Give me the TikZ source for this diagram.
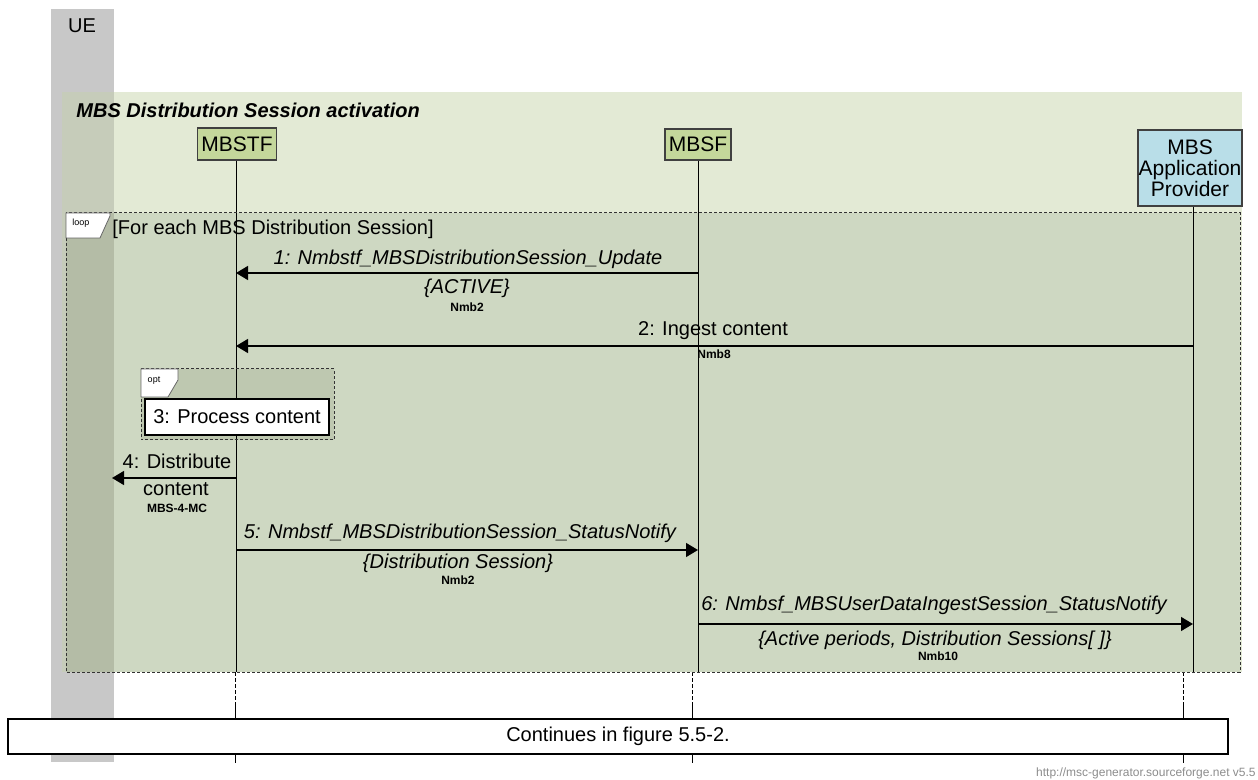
\documentclass[tikz,border=0pt]{standalone}
\usepackage{fontspec}
\setmainfont{Liberation Sans}
\usetikzlibrary{arrows.meta}

\definecolor{uegray}{HTML}{C8C8C8}
\definecolor{bandgreen}{HTML}{E3EAD5}
\definecolor{bandue}{HTML}{C6CCBA}
\definecolor{loopgreen}{HTML}{CED8C2}
\definecolor{loopue}{HTML}{B4BCA6}
\definecolor{optgreen}{HTML}{BEC8B0}
\definecolor{entgreen}{HTML}{C4D79B}
\definecolor{apblue}{HTML}{B9DEE8}

\begin{document}
\begin{tikzpicture}[x=0.5pt,y=-0.5pt,
  entity/.style={draw=black!75,line width=0.6pt,inner sep=0pt,align=center,
    font=\fontsize{10.5}{10.5}\selectfont},
  life/.style={line width=0.5pt},
  msg/.style={line width=0.7pt,-{Triangle[length=6pt,width=7pt]}},
  lbl/.style={inner sep=0pt,font=\fontsize{10}{12}\selectfont},
  ilbl/.style={inner sep=0pt,font=\fontsize{10}{12}\selectfont\itshape},
  iface/.style={inner sep=0pt,font=\fontsize{6}{7}\selectfont\bfseries},
  boxline/.style={draw=black!80,line width=0.5pt,dash pattern=on 1.5pt off 1pt},
  tagbox/.style={fill=white,draw=black!60,line width=0.4pt},
  tagtext/.style={inner sep=0pt,font=\fontsize{4.5}{5}\selectfont}]
  \useasboundingbox (0,0) rectangle (1258,780);

  % backgrounds
  \fill[uegray] (51,9) rectangle (114,762);
  \fill[bandgreen] (62,92) rectangle (1242,672);
  \fill[bandue] (62,92) rectangle (114,672);
  \fill[loopgreen] (66,213) rectangle (1240,672);
  \fill[loopue] (66,213) rectangle (114,672);
  \fill[optgreen] (141,369) rectangle (334,440);

  % entities
  \node[lbl] (ue) at (82,26) {UE};
  \node[lbl,anchor=west,font=\fontsize{10}{12}\selectfont\bfseries\itshape] (title) at (76,110)
    {MBS Distribution Session activation};
  \node[entity,fill=entgreen,minimum width=39.5pt,minimum height=16pt] (mbstf) at (237,144) {MBSTF};
  \node[entity,fill=entgreen,minimum width=33pt,minimum height=15.5pt] (mbsf) at (698,144.5) {MBSF};
  \node[entity,fill=apblue,minimum width=52pt,minimum height=38pt] (ap) at (1190,168)
    {MBS\\Application\\Provider};

  % lifelines
  \coordinate (mbstf-end) at (236,672);
  \coordinate (mbsf-end) at (698,672);
  \coordinate (ap-end) at (1193,672);
  \draw[life] (mbstf.south -| mbstf-end) -- (mbstf-end);
  \draw[life] (mbsf.south -| mbsf-end) -- (mbsf-end);
  \draw[life] (ap.south -| ap-end) -- (ap-end);
  \foreach \x in {235,692,1183} {
    \draw[life,dash pattern=on 2pt off 1pt] (\x,672) -- (\x,705);
    \draw[life] (\x,705) -- (\x,763);
  }

  % loop
  \draw[boxline] (66,213) rectangle (1240,672);
  \draw[tagbox] (66,213) -- (110,213) -- (110,216) -- (100,238) -- (66,238) -- cycle;
  \node[tagtext] (looptag) at (81,223) {loop};
  \node[lbl,anchor=west] (loopcond) at (112,229) {[For each MBS Distribution Session]};

  % 1
  \coordinate (mbsf-1) at (698,273);
  \coordinate (mbstf-1) at (236,273);
  \draw[msg] (mbsf-1) -- (mbstf-1);
  \node[ilbl] (m1) at (468,259) {1: Nmbstf\_MBSDistributionSession\_Update};
  \node[ilbl] (m1b) at (467,288) {\{ACTIVE\}};
  \node[iface] (m1c) at (467,307) {Nmb2};

  % 2
  \coordinate (ap-2) at (1193,346);
  \coordinate (mbstf-2) at (236,346);
  \draw[msg] (ap-2) -- (mbstf-2);
  \node[lbl] (m2) at (713,331) {2: Ingest content};
  \node[iface] (m2c) at (714,354) {Nmb8};

  % opt / 3
  \draw[boxline] (141,369) rectangle (334,440);
  \draw[tagbox] (141,369) -- (178,369) -- (178,380) -- (168,397) -- (141,397) -- cycle;
  \node[tagtext] (opttag) at (154,381) {opt};
  \node[draw,fill=white,line width=0.7pt,inner sep=0pt,minimum width=92pt,minimum height=18pt,
    font=\fontsize{10}{12}\selectfont] (m3) at (237,417) {3: Process content};

  % 4
  \coordinate (mbstf-4) at (236,478);
  \coordinate (ue-4) at (112,478);
  \draw[msg] (mbstf-4) -- (ue-4);
  \node[lbl] (m4) at (177,461) {4: Distribute};
  \node[lbl] (m4b) at (176,489) {content};
  \node[iface] (m4c) at (177,508) {MBS-4-MC};

  % 5
  \coordinate (mbstf-5) at (236,550);
  \coordinate (mbsf-5) at (698,550);
  \draw[msg] (mbstf-5) -- (mbsf-5);
  \node[ilbl] (m5) at (460,533) {5: Nmbstf\_MBSDistributionSession\_StatusNotify};
  \node[ilbl] (m5b) at (458,563) {\{Distribution Session\}};
  \node[iface] (m5c) at (458,580) {Nmb2};

  % 6
  \coordinate (mbsf-6) at (698,624);
  \coordinate (ap-6) at (1193,624);
  \draw[msg] (mbsf-6) -- (ap-6);
  \node[ilbl] (m6) at (934,605) {6: Nmbsf\_MBSUserDataIngestSession\_StatusNotify};
  \node[ilbl] (m6b) at (935,640) {\{Active periods, Distribution Sessions[ ]\}};
  \node[iface] (m6c) at (938,656) {Nmb10};

  % continuation
  \node[draw,fill=white,line width=0.6pt,inner sep=0pt,minimum width=610pt,minimum height=17.5pt,
    font=\fontsize{10}{12}\selectfont] (cont) at (618,736.5) {Continues in figure 5.5-2.};
  \node[anchor=east,inner sep=0pt,text=black!45,font=\fontsize{6}{7}\selectfont] (wm) at (1256,773)
    {http://msc-generator.sourceforge.net v5.5};
\end{tikzpicture}
\end{document}
